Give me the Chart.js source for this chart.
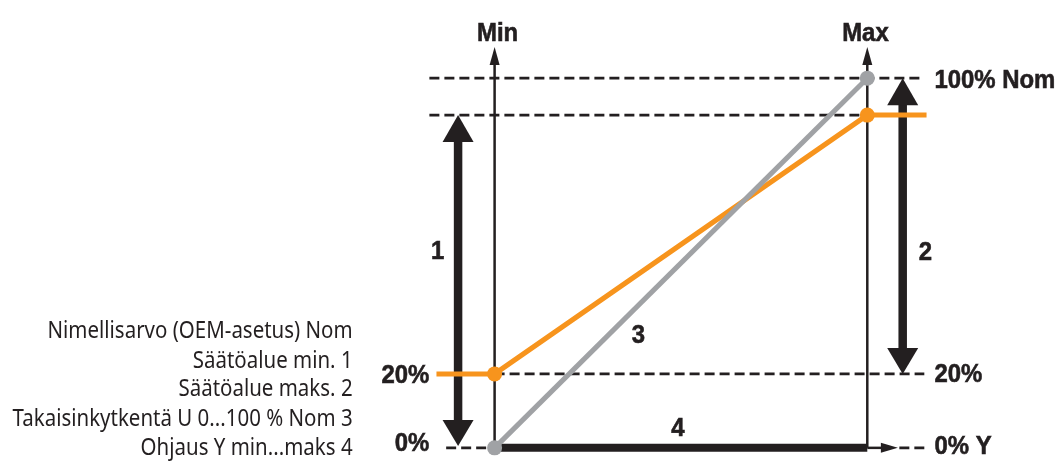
<!DOCTYPE html>
<html>
<head>
<meta charset="utf-8">
<script src="https://cdn.jsdelivr.net/npm/chart.js@4.4.1/dist/chart.umd.min.js"></script>
<style>
  html, body { margin: 0; padding: 0; background: #fff; }
  #wrap { width: 1063px; height: 466px; }
</style>
</head>
<body>
<div id="wrap"><canvas id="diagram"></canvas></div>
<script>
// x: control signal (0 = Min, 100 = Max), y: % of Nom
const orangeX = [-15.6, 0, 100, 115.9];
const orangeY = [20, 20, 90, 90];
const orangeDots = [0, 7.5, 7.5, 0];
const greyX = [0, 100];
const greyY = [0, 100];

// dashed guide lines
const guideLevels = [100, 90, 20, 0, 0];
const guideFrom = [-17.5, -17.5, 0, -13, 108.6];
const guideTo = [115.3, 100, 115.3, 0, 115.3];

// thick line "4" along the bottom
const bottomX = [0, 100];
const bottomY = [0, 0];

// vertical axes Min / Max and the horizontal arrow
const axisX = [0, 100];
const axisTop = 108.4;
const hArrowFrom = 100;
const hArrowTo = 108.2;

// range arrows 1 and 2
const rangeX = [-9.8, 109.5];
const rangeLow = [0.5, 20];
const rangeHigh = [90, 100];

// bold labels (y = baseline)
const markText = ['Min', 'Max', '100% Nom', '20%', '0%', 'Y', '20%', '0%', '1', '2', '3', '4'];
const markX = [0.8, 99.5, 118, 118, 118, 129.1, -17.5, -17.5, -15.3, 115.6, 38.6, 49.2];
const markY = [110, 110, 97.4, 17.8, -1.6, -1.6, 17.5, -0.8, 51, 50.8, 28.3, 3.1];
const markAlign = ['center', 'center', 'left', 'left', 'left', 'left', 'right', 'right', 'center', 'center', 'center', 'center'];

// explanation text on the left (y = baseline)
const legendText = [
  'Nimellisarvo (OEM-asetus) Nom',
  'Säätöalue min. 1',
  'Säätöalue maks. 2',
  'Takaisinkytkentä U 0...100 % Nom 3',
  'Ohjaus Y min...maks 4'
];
const legendX = -38.1;
const legendY = [29.8, 21.7, 13.9, 6.0, -1.8];

const ORANGE = '#f7941d';
const GREY = '#a0a2a5';
const INK = '#231f20';
const BOLD_FONT = 'bold 26px "Liberation Sans", Arial, sans-serif';
const BOLD_SQUEEZE = 0.92;
const TEXT_FONT = '23px "Noto Sans", "Open Sans", sans-serif';
const TEXT_SQUEEZE = 0.89;

function pairs(xs, ys) {
  return xs.map((x, i) => ({ x: x, y: ys[i] }));
}

// Function to draw a filled arrow head with its tip at (tx, ty)
function drawHead(ctx, tx, ty, dx, dy, len, half) {
  const bx = tx - dx * len, by = ty - dy * len;
  ctx.beginPath();
  ctx.moveTo(tx, ty);
  ctx.lineTo(bx - dy * half, by + dx * half);
  ctx.lineTo(bx + dy * half, by - dx * half);
  ctx.closePath();
  ctx.fill();
}

// Function to write horizontally condensed text at (x, y)
function condensedText(ctx, text, x, y, squeeze, outline) {
  ctx.save();
  ctx.translate(x, y);
  ctx.scale(squeeze, 1);
  ctx.fillText(text, 0, 0);
  if (outline) ctx.strokeText(text, 0, 0);
  ctx.restore();
}

const datasets = [];

guideLevels.forEach((lvl, i) => {
  datasets.push({
    data: pairs([guideFrom[i], guideTo[i]], [lvl, lvl]),
    showLine: true,
    borderColor: INK,
    borderWidth: 2.7,
    borderDash: [10, 5],
    pointRadius: 0,
    order: 5
  });
});

datasets.push({
  data: pairs(bottomX, bottomY),
  showLine: true,
  borderColor: INK,
  borderWidth: 8,
  pointRadius: 0,
  order: 4
});

datasets.push({
  data: pairs(orangeX, orangeY),
  showLine: true,
  borderColor: ORANGE,
  backgroundColor: ORANGE,
  borderWidth: 5,
  pointRadius: orangeDots,
  pointBorderWidth: 0,
  order: 2
});

datasets.push({
  data: pairs(greyX, greyY),
  showLine: true,
  borderColor: GREY,
  backgroundColor: GREY,
  borderWidth: 5,
  pointRadius: 7.5,
  pointBorderWidth: 0,
  order: 1
});

const schematic = {
  id: 'schematic',
  beforeDatasetsDraw(chart) {
    const ctx = chart.ctx;
    const sx = chart.scales.x, sy = chart.scales.y;
    ctx.save();
    ctx.strokeStyle = INK;
    ctx.fillStyle = INK;
    ctx.lineWidth = 2.5;
    // Min and Max axes
    axisX.forEach(v => {
      const x = sx.getPixelForValue(v);
      const top = sy.getPixelForValue(axisTop);
      ctx.beginPath();
      ctx.moveTo(x, sy.getPixelForValue(0));
      ctx.lineTo(x, top + 12);
      ctx.stroke();
      drawHead(ctx, x, top, 0, -1, 18, 5);
    });
    // horizontal arrow after Max
    const y0 = sy.getPixelForValue(0);
    const tip = sx.getPixelForValue(hArrowTo);
    ctx.beginPath();
    ctx.moveTo(sx.getPixelForValue(hArrowFrom), y0);
    ctx.lineTo(tip - 12, y0);
    ctx.stroke();
    drawHead(ctx, tip, y0, 1, 0, 17, 5);
    // double arrows 1 and 2 (the orange line passes over them)
    rangeX.forEach((v, i) => {
      const x = sx.getPixelForValue(v);
      const lo = sy.getPixelForValue(rangeLow[i]);
      const hi = sy.getPixelForValue(rangeHigh[i]);
      ctx.lineWidth = 8.5;
      ctx.beginPath();
      ctx.moveTo(x, lo - 20);
      ctx.lineTo(x, hi + 20);
      ctx.stroke();
      drawHead(ctx, x, hi, 0, -1, 27, 15.5);
      drawHead(ctx, x, lo, 0, 1, 26, 15.5);
    });
    ctx.restore();
  },
  afterDatasetsDraw(chart) {
    const ctx = chart.ctx;
    const sx = chart.scales.x, sy = chart.scales.y;
    ctx.save();
    ctx.strokeStyle = INK;
    ctx.fillStyle = INK;
    ctx.textBaseline = 'alphabetic';
    // bold labels, a little heavier with a thin outline
    ctx.font = BOLD_FONT;
    ctx.lineWidth = 0.6;
    markText.forEach((t, i) => {
      ctx.textAlign = markAlign[i];
      condensedText(ctx, t, sx.getPixelForValue(markX[i]), sy.getPixelForValue(markY[i]), BOLD_SQUEEZE, true);
    });
    // explanation lines
    ctx.font = TEXT_FONT;
    ctx.textAlign = 'right';
    legendText.forEach((t, i) => {
      condensedText(ctx, t, sx.getPixelForValue(legendX), sy.getPixelForValue(legendY[i]), TEXT_SQUEEZE, false);
    });
    ctx.restore();
  }
};

new Chart(document.getElementById('diagram'), {
  type: 'scatter',
  data: { datasets: datasets },
  options: {
    responsive: true,
    maintainAspectRatio: false,
    animation: false,
    layout: { padding: 0 },
    plugins: { legend: { display: false }, tooltip: { enabled: false } },
    scales: {
      x: { type: 'linear', display: false, min: -130.7, max: 150.5 },
      y: { type: 'linear', display: false, min: -2.88, max: 119.11 }
    }
  },
  plugins: [schematic]
});
</script>
</body>
</html>
